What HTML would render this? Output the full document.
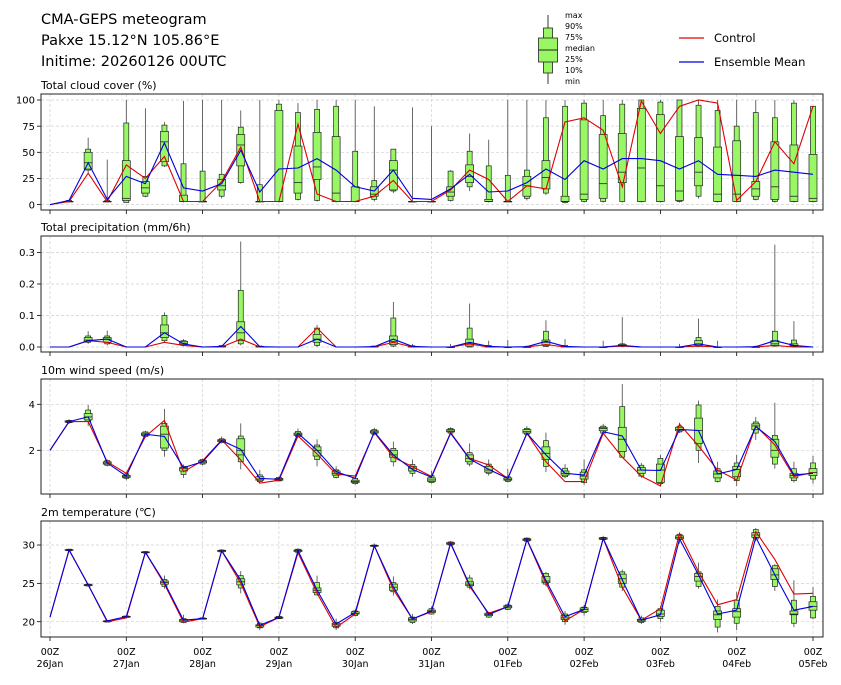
<!DOCTYPE html>
<html><head><meta charset="utf-8"><style>
body{margin:0;background:#fff;overflow:hidden;}
svg text{font-family:"DejaVu Sans","Liberation Sans",sans-serif;fill:#000;}
</style></head><body>
<svg id="s" width="841" height="680" xmlns="http://www.w3.org/2000/svg"></svg>
<script>
const N=null;
const cloud=[[N,0,0],[2,3,3,3,3,4,5,3,4],[30,33,34,40,50,53,64,30,40],[2,3,3,3,3,4,43,3,5],[2,2,4,6,42,78,100,38,27],[7,8,11,16,22,27,92,25,20],[36,37,41,60,70,76,79,46,59],[2,3,3,3,9,39,99,3,16],[2,3,3,3,3,32,100,3,13],[6,8,14,18,24,29,100,22,20],[20,21,37,57,67,74,90,55,52],[2,3,3,3,3,19,100,3,12],[2,3,3,3,90,96,100,3,34],[4,5,11,21,56,88,97,77,35],[3,4,24,36,69,91,100,10,44],[2,3,3,11,65,94,100,3,33],[2,3,3,3,17,51,100,3,17],[3,5,8,10,17,23,94,8,13],[11,13,14,33,42,53,53,23,33],[2,3,3,3,3,3,93,3,6],[2,3,3,3,3,3,75,3,5],[3,4,8,12,17,32,33,14,15],[13,17,21,27,38,51,68,33,29],[2,3,3,3,5,37,62,24,12],[2,3,3,3,3,28,100,3,13],[4,6,8,18,27,33,100,18,21],[9,11,15,26,42,83,100,15,34],[1,2,3,3,8,94,100,79,24],[2,3,5,10,81,97,100,83,42],[2,3,6,20,67,85,100,71,34],[2,3,21,31,68,96,100,17,44],[2,3,3,35,92,100,100,99,44],[2,3,3,18,86,98,100,68,42],[2,3,4,13,65,100,100,94,34],[6,8,18,31,64,95,100,100,42],[2,3,3,10,55,90,100,97,29],[2,3,3,10,61,75,100,4,28],[4,5,8,15,22,88,100,22,27],[2,3,5,17,60,83,100,60,33],[2,3,3,8,57,97,100,39,31],[2,3,3,6,48,94,94,94,29]];
const pr=[[N,0,0],[N,0,0],[0.01,0.015,0.018,0.022,0.03,0.035,0.05,0.02,0.02],[0.005,0.01,0.015,0.025,0.03,0.035,0.052,0.015,0.025],[N,0,0],[N,0,0],[0.015,0.02,0.03,0.045,0.07,0.1,0.11,0.015,0.045],[0.002,0.005,0.008,0.012,0.018,0.02,0.025,0.005,0.01],[N,0,0],[0,0,0,0.001,0.002,0.005,0.005,0,0.002],[0.005,0.01,0.02,0.045,0.08,0.18,0.335,0.025,0.065],[0,0,0,0.001,0.002,0.003,0.003,0,0.001],[N,0,0],[N,0,0],[0,0.005,0.015,0.025,0.04,0.06,0.07,0.06,0.025],[N,0,0],[N,0,0],[0,0,0,0.001,0.002,0.003,0.004,0,0.001],[0,0.003,0.008,0.018,0.035,0.092,0.143,0.015,0.025],[0,0,0,0.001,0.002,0.004,0.01,0,0.002],[N,0,0],[0,0,0,0,0,0,0.01,0,0],[0,0,0.003,0.012,0.025,0.06,0.138,0.01,0.015],[0,0,0,0.001,0.002,0.005,0.02,0,0.002],[0,0,0,0,0,0,0.022,0,0],[0,0,0,0,0,0.002,0.005,0,0.001],[0,0.002,0.005,0.015,0.022,0.05,0.085,0.008,0.018],[0,0,0,0.001,0.002,0.005,0.025,0,0.002],[N,0,0],[0,0,0,0,0,0,0.02,0,0],[0,0.002,0.003,0.005,0.008,0.01,0.095,0.003,0.005],[N,0,0],[N,0,0],[0,0,0,0,0,0,0.01,0,0],[0,0.002,0.005,0.01,0.02,0.03,0.09,0.003,0.01],[0,0,0,0,0,0,0.02,0,0],[N,0,0],[0,0,0,0,0,0.002,0.005,0,0.001],[0,0.003,0.005,0.01,0.02,0.05,0.325,0.005,0.02],[0,0.001,0.002,0.004,0.01,0.022,0.082,0,0.005],[N,0,0]];
const wind=[[N,2,2],[3.15,3.2,3.22,3.25,3.28,3.3,3.35,3.25,3.25],[3.05,3.25,3.32,3.45,3.6,3.75,3.97,3.25,3.45],[1.3,1.35,1.4,1.45,1.5,1.55,1.6,1.5,1.45],[0.7,0.78,0.82,0.85,0.9,0.97,1.0,1.0,0.88],[2.55,2.6,2.65,2.7,2.75,2.8,2.85,2.6,2.7],[1.72,2.0,2.1,2.7,3.05,3.17,3.8,3.3,2.6],[0.8,0.95,1.1,1.2,1.25,1.3,1.38,1.07,1.25],[1.35,1.4,1.45,1.5,1.55,1.6,1.65,1.55,1.5],[2.3,2.33,2.38,2.42,2.46,2.5,2.6,2.45,2.42],[1.17,1.5,1.8,2.0,2.5,2.62,3.17,1.58,2.04],[0.6,0.64,0.7,0.75,0.85,0.93,1.15,0.57,0.78],[0.65,0.67,0.7,0.74,0.78,0.82,0.85,0.7,0.74],[2.55,2.6,2.65,2.7,2.75,2.82,2.95,2.62,2.74],[1.3,1.6,1.75,2.0,2.15,2.23,2.48,1.84,2.0],[0.78,0.82,0.92,1.0,1.1,1.15,1.3,0.97,1.07],[0.5,0.55,0.6,0.64,0.7,0.78,0.85,0.88,0.78],[2.65,2.7,2.75,2.8,2.85,2.9,2.98,2.78,2.8],[1.3,1.5,1.7,1.8,2.0,2.08,2.38,1.7,1.8],[0.85,1.0,1.1,1.22,1.3,1.38,1.6,1.29,1.17],[0.55,0.6,0.65,0.71,0.8,0.9,1.1,0.86,0.83],[2.7,2.75,2.8,2.84,2.9,2.95,3.0,2.77,2.74],[1.3,1.4,1.5,1.65,1.8,1.9,2.3,1.65,1.62],[0.9,1.0,1.05,1.14,1.3,1.4,1.6,1.36,1.17],[0.6,0.65,0.7,0.74,0.8,0.85,1.2,0.78,0.78],[2.65,2.7,2.75,2.81,2.9,2.95,3.05,2.74,2.74],[1.05,1.3,1.6,1.87,2.15,2.42,2.77,1.5,1.8],[0.78,0.85,0.92,1.0,1.1,1.22,1.4,0.64,1.0],[0.5,0.6,0.75,0.88,1.05,1.15,1.6,0.64,0.92],[2.7,2.75,2.85,2.95,3.0,3.05,3.15,2.74,2.81],[1.7,1.7,1.95,2.48,3.0,3.9,4.88,1.7,2.62],[0.8,0.88,1.0,1.14,1.25,1.35,1.45,0.88,1.14],[0.45,0.55,0.6,1.14,1.4,1.65,1.8,0.45,1.12],[2.75,2.8,2.85,2.91,3.0,3.05,3.2,3.14,2.91],[1.45,2.0,2.3,2.86,3.4,3.97,4.16,2.19,2.86],[0.6,0.65,0.8,0.97,1.1,1.2,1.5,1.14,0.97],[0.45,0.68,0.85,1.17,1.3,1.45,1.8,0.71,1.17],[2.45,2.75,2.9,3.06,3.15,3.23,3.45,3.06,3.03],[1.2,1.4,1.7,2.0,2.48,2.65,4.07,2.23,2.38],[0.6,0.68,0.8,0.9,1.0,1.2,1.5,0.86,0.93],[0.55,0.75,0.9,1.03,1.2,1.45,1.75,1.03,1.0]];
const temp=[[N,20.6,20.6],[29.2,29.25,29.3,29.35,29.4,29.45,29.5,29.35,29.35],[24.6,24.65,24.7,24.8,24.85,24.9,25,24.8,24.8],[19.9,19.95,20.0,20.05,20.1,20.15,20.2,20.0,20.1],[20.5,20.55,20.6,20.65,20.7,20.75,20.8,20.5,20.65],[28.9,28.95,29.0,29.05,29.1,29.15,29.2,29.05,29.05],[24.3,24.6,24.9,25.1,25.3,25.5,26.0,24.9,25.1],[19.8,19.9,20.0,20.2,20.3,20.4,20.9,19.95,20.2],[20.3,20.32,20.35,20.4,20.45,20.5,20.55,20.4,20.4],[29.05,29.1,29.15,29.25,29.3,29.35,29.45,29.25,29.25],[23.7,24.4,24.8,25.2,25.6,26.0,26.6,25.0,25.4],[18.9,19.2,19.3,19.5,19.6,19.8,20.0,19.35,19.55],[20.3,20.4,20.45,20.55,20.6,20.7,20.8,20.55,20.55],[29.0,29.05,29.15,29.25,29.35,29.45,29.6,29.0,29.25],[23.4,23.5,23.8,24.1,24.4,25.1,26.0,23.7,24.1],[18.9,19.2,19.4,19.6,19.8,19.9,20.4,19.25,19.7],[20.7,20.8,21.0,21.1,21.3,21.4,21.6,21.0,21.2],[29.7,29.8,29.85,29.9,29.95,30.0,30.2,29.9,29.9],[23.4,23.9,24.1,24.5,24.9,25.1,25.9,24.2,24.55],[19.7,19.9,20.1,20.3,20.5,20.6,21.0,20.35,20.35],[20.9,21.0,21.2,21.35,21.5,21.7,22.0,21.3,21.4],[29.9,30.0,30.1,30.2,30.3,30.4,30.5,30.3,30.2],[24.2,24.5,24.7,24.9,25.2,25.7,26.1,24.6,24.8],[20.5,20.6,20.8,20.95,21.1,21.2,21.3,21.1,20.95],[21.5,21.6,21.8,21.95,22.1,22.2,22.4,21.95,21.95],[30.4,30.5,30.6,30.7,30.8,30.9,31.0,30.7,30.7],[24.6,24.9,25.1,25.3,25.9,26.3,26.5,25.0,25.35],[19.6,20.0,20.3,20.5,20.8,21.0,21.4,20.1,20.65],[20.8,21.2,21.3,21.6,21.8,21.9,22.2,21.6,21.6],[30.6,30.7,30.75,30.85,30.95,31.0,31.2,30.85,30.85],[24.0,24.5,25.0,25.6,26.2,26.5,26.8,24.5,25.45],[19.7,19.9,20.05,20.2,20.3,20.5,20.8,20.2,20.2],[20.0,20.4,20.7,21.0,21.5,21.7,22.0,21.7,20.9],[30.2,30.7,30.8,31.0,31.2,31.4,31.6,31.5,30.8],[24.3,24.6,25.3,25.9,26.3,26.5,27.7,26.5,26.1],[18.6,19.3,20.3,20.9,21.4,22.0,22.9,22.2,21.0],[18.9,19.8,20.6,21.3,21.7,22.8,23.9,22.9,21.5],[30.5,30.8,31.0,31.3,31.6,32.0,32.2,31.75,31.0],[24.0,24.6,25.5,26.1,26.9,27.3,27.5,28.1,26.1],[19.3,19.8,20.9,21.0,21.4,22.8,25.4,23.6,21.5],[20.3,20.5,21.5,22.0,22.6,23.3,24.5,23.7,22.0]];
const X0=41,X1=823,xs=i=>50+i*19.075;
let o='';
const panels=[
 {t:'Total cloud cover (%)',top:94,bot:210,y:v=>204.6-v*1.046,ticks:[[0,'0'],[25,'25'],[50,'50'],[75,'75'],[100,'100']],d:cloud},
 {t:'Total precipitation (mm/6h)',top:236,bot:352,y:v=>347-v*315,ticks:[[0,'0.0'],[0.1,'0.1'],[0.2,'0.2'],[0.3,'0.3']],d:pr},
 {t:'10m wind speed (m/s)',top:379,bot:494,y:v=>496.3-v*23,ticks:[[2,'2'],[4,'4']],d:wind},
 {t:'2m temperature (\u2103)',top:521,bot:637,y:v=>621.7-(v-20)*7.67,ticks:[[20,'20'],[25,'25'],[30,'30']],d:temp}];
panels.forEach((p,pi)=>{
 o+=`<text x="41" y="${p.top-5}" font-size="11">${p.t}</text>`;
 for(let d=0;d<=10;d++){const x=xs(d*4);o+=`<line x1="${x}" y1="${p.top}" x2="${x}" y2="${p.bot}" stroke="#d0d0d0" stroke-width="0.7" stroke-dasharray="3,2"/><line x1="${x}" y1="${p.bot}" x2="${x}" y2="${p.bot+4}" stroke="#000" stroke-width="0.8"/>`;}
 p.ticks.forEach(([v,l])=>{const y=p.y(v);o+=`<line x1="${X0}" y1="${y}" x2="${X1}" y2="${y}" stroke="#d0d0d0" stroke-width="0.7" stroke-dasharray="3,2"/><line x1="${X0-4}" y1="${y}" x2="${X0}" y2="${y}" stroke="#000" stroke-width="0.8"/><text x="${X0-6}" y="${y+3.7}" font-size="10" text-anchor="end">${l}</text>`;});
 p.d.forEach((r,i)=>{if(r[0]===null)return;const x=xs(i),Y=p.y;
  o+=`<line x1="${x}" y1="${Y(r[0])}" x2="${x}" y2="${Y(r[6])}" stroke="#444" stroke-width="0.8"/>`;
  o+=`<rect x="${x-2.5}" y="${Y(r[5])}" width="5" height="${Math.max(0.5,Y(r[1])-Y(r[5]))}" fill="#99f766" stroke="#222" stroke-width="0.7"/>`;
  o+=`<rect x="${x-4}" y="${Y(r[4])}" width="8" height="${Math.max(0.5,Y(r[2])-Y(r[4]))}" fill="#99f766" stroke="#222" stroke-width="0.7"/>`;
  o+=`<line x1="${x-4}" y1="${Y(r[3])}" x2="${x+4}" y2="${Y(r[3])}" stroke="#222" stroke-width="0.8"/>`;});
 const ln=(k,c)=>{let pts=p.d.map((r,i)=>{const v=r[0]===null?r[k-6]:r[k];return xs(i).toFixed(1)+','+p.y(v).toFixed(1);}).join(' ');o+=`<polyline points="${pts}" fill="none" stroke="${c}" stroke-width="1.1"/>`;};
 ln(7,'#e00000');ln(8,'#0000e0');
 o+=`<rect x="${X0}" y="${p.top}" width="${X1-X0}" height="${p.bot-p.top}" fill="none" stroke="#222" stroke-width="1"/>`;
});
const days=['26Jan','27Jan','28Jan','29Jan','30Jan','31Jan','01Feb','02Feb','03Feb','04Feb','05Feb'];
days.forEach((d,k)=>{const x=xs(k*4);o+=`<text x="${x}" y="655" font-size="9.5" text-anchor="middle">00Z</text><text x="${x}" y="667" font-size="9.5" text-anchor="middle">${d}</text>`;});
o+=`<text x="41" y="24" font-size="14.5">CMA-GEPS meteogram</text><text x="41" y="45" font-size="14.5">Pakxe 15.12°N 105.86°E</text><text x="41" y="66" font-size="14.5">Initime: 20260126 00UTC</text>`;
o+=`<line x1="548" y1="15" x2="548" y2="84" stroke="#222" stroke-width="0.9"/><rect x="543.5" y="28" width="9" height="45" fill="#99f766" stroke="#222" stroke-width="0.8"/><rect x="538.5" y="38" width="19" height="24" fill="#99f766" stroke="#222" stroke-width="0.8"/><line x1="538.5" y1="50" x2="557.5" y2="50" stroke="#222" stroke-width="0.9"/>`;
['max','90%','75%','median','25%','10%','min'].forEach((t,k)=>{o+=`<text x="565" y="${18+k*11}" font-size="8">${t}</text>`;});
o+=`<line x1="679" y1="38" x2="704" y2="38" stroke="#e00000" stroke-width="1.2"/><text x="714" y="42" font-size="11.5">Control</text><line x1="679" y1="62" x2="704" y2="62" stroke="#0000e0" stroke-width="1.2"/><text x="714" y="66" font-size="11.5">Ensemble Mean</text>`;
document.getElementById('s').innerHTML=o;
</script>
</body></html>
